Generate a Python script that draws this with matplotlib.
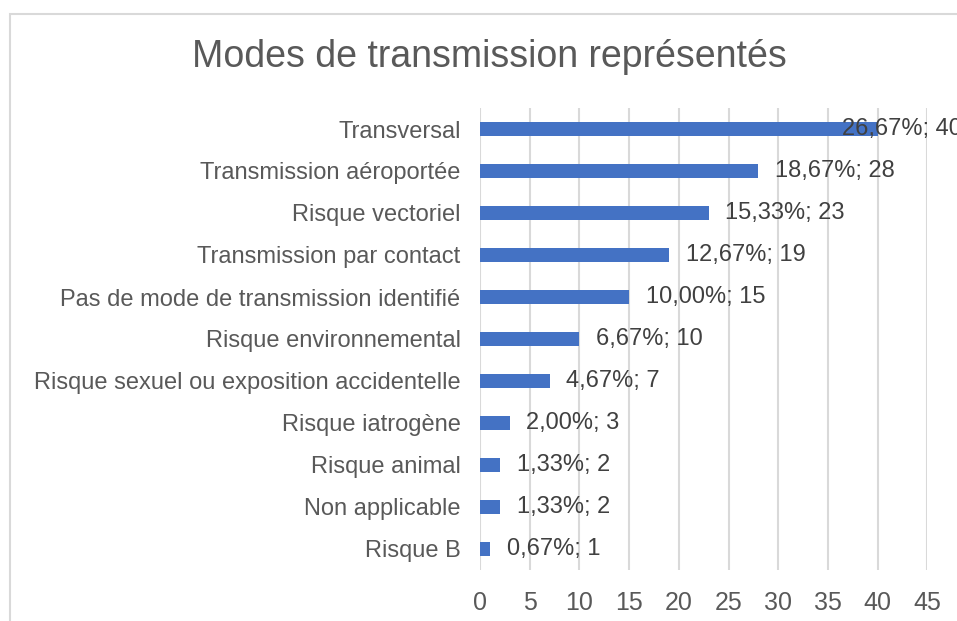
import matplotlib.pyplot as plt
from matplotlib.patches import Rectangle

# données
categories = ['Transversal', 'Transmission aéroportée', 'Risque vectoriel',
              'Transmission par contact', 'Pas de mode de transmission identifié',
              'Risque environnemental', 'Risque sexuel ou exposition accidentelle',
              'Risque iatrogène', 'Risque animal', 'Non applicable', 'Risque B']
counts = [40, 28, 23, 19, 15, 10, 7, 3, 2, 2, 1]
percents = ['26,67%', '18,67%', '15,33%', '12,67%', '10,00%', '6,67%',
            '4,67%', '2,00%', '1,33%', '1,33%', '0,67%']
xticks = [0, 5, 10, 15, 20, 25, 30, 35, 40, 45]

plt.rcParams['font.family'] = ['Liberation Sans', 'DejaVu Sans']

fig = plt.figure(figsize=(9.57, 6.21), dpi=100)
ax = fig.add_axes([480 / 957, 1 - 570 / 621, (927.5 - 480) / 957, 462 / 621])

# cadre du graphique
fig.patches.append(Rectangle((10 / 957, -0.1), 1.2, 1.1 - 14 / 621,
                             transform=fig.transFigure, fill=False,
                             edgecolor='#D9D9D9', linewidth=1.5))

y = list(range(len(categories)))
ax.barh(y, counts, height=0.355, color='#4472C4', zorder=3)
ax.set_ylim(len(categories) - 0.5, -0.5)
ax.set_xlim(0, 45)
ax.set_xticks(xticks)
ax.set_yticks(y)
ax.set_yticklabels(categories, fontsize=17)
ax.tick_params(axis='both', length=0, colors='#595959')
ax.tick_params(axis='y', pad=14)
ax.tick_params(axis='x', pad=15, labelsize=18)
ax.grid(axis='x', color='#D9D9D9', linewidth=1.5, zorder=0)
for s in ax.spines.values():
    s.set_visible(False)

# étiquettes de données
for i, (c, p) in enumerate(zip(counts, percents)):
    if c == 40:
        ax.text(36.45, i, f'{p}; {c}', va='center', ha='left', fontsize=17,
                color='#404040', zorder=4, clip_on=False)
    else:
        ax.annotate(f'{p}; {c}', xy=(c, i), xytext=(12, 0), textcoords='offset points',
                    va='center', ha='left', fontsize=17, color='#404040', zorder=4)

fig.text(489 / 957, 1 - 57 / 621, 'Modes de transmission représentés',
         ha='center', va='center', fontsize=27, color='#595959')

fig.savefig('out.png', dpi=100)
